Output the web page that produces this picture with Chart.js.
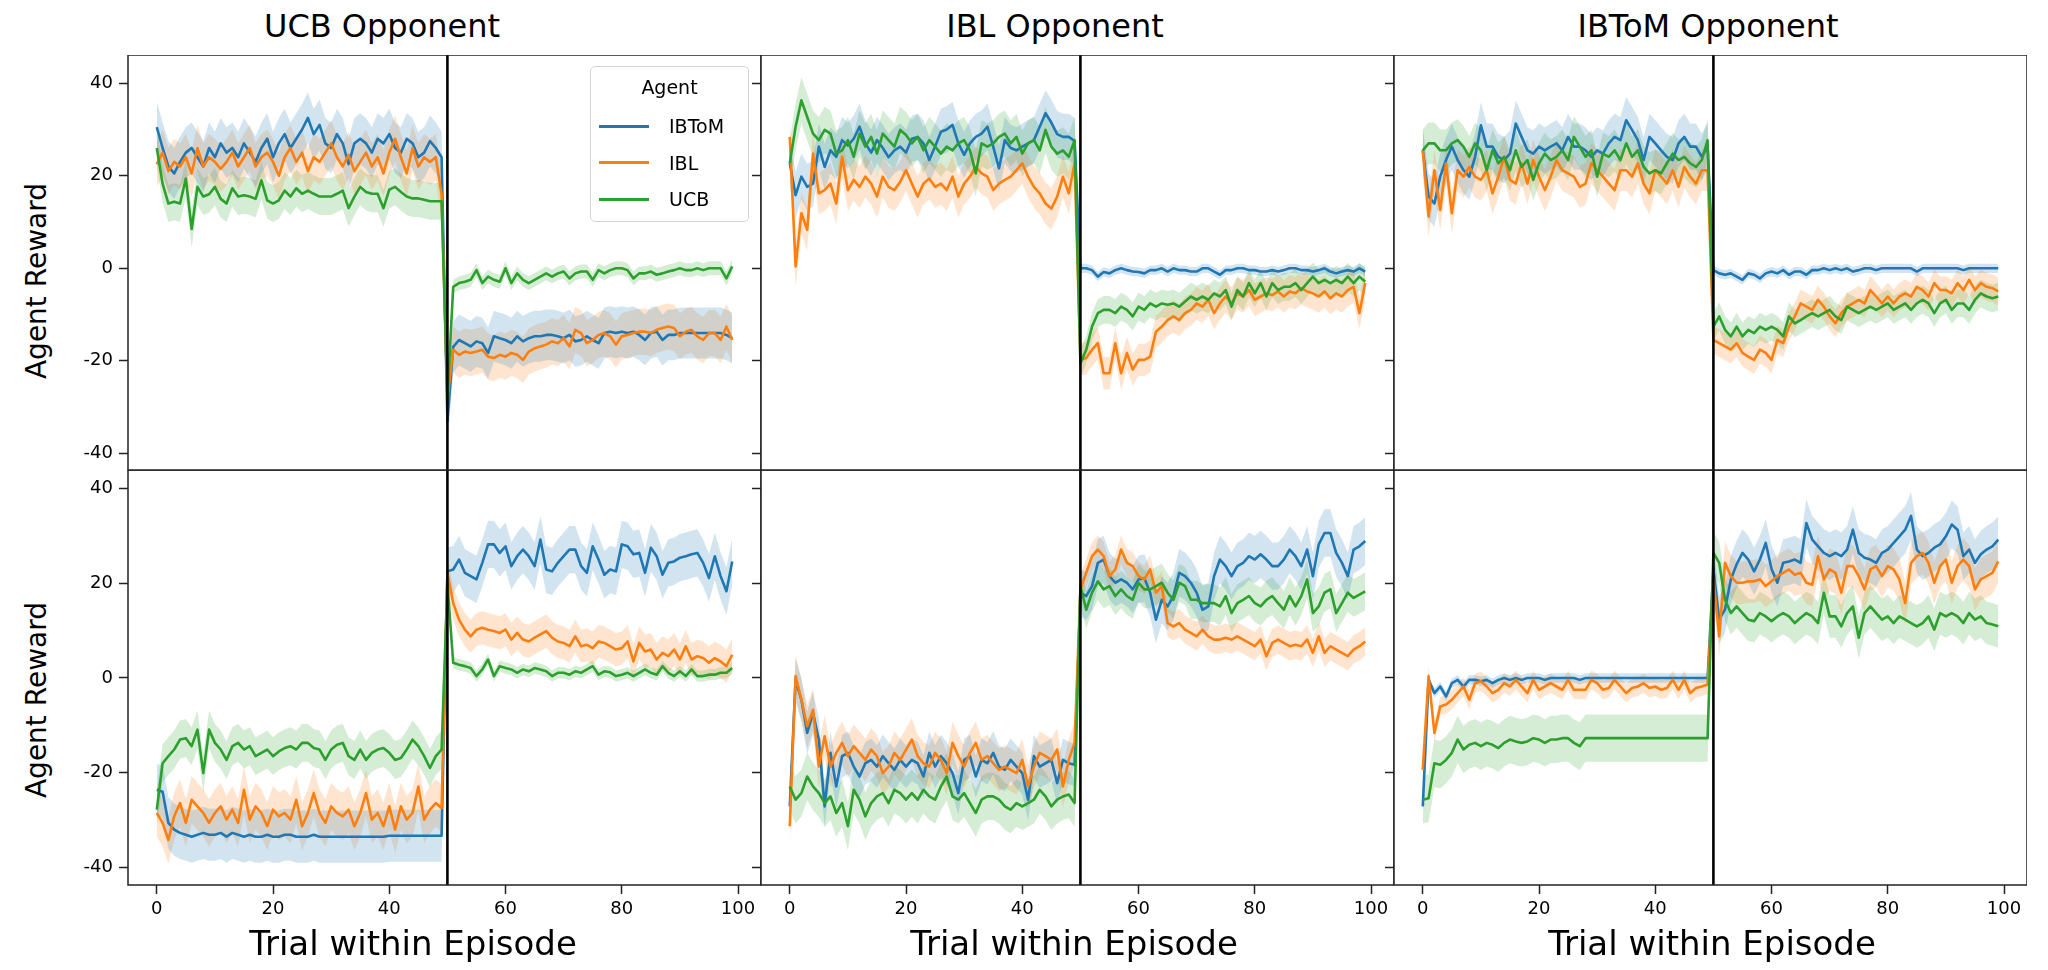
<!DOCTYPE html>
<html>
<head>
<meta charset="utf-8">
<title>Agent reward by opponent</title>
<script src="https://cdn.jsdelivr.net/npm/chart.js@4.4.1/dist/chart.umd.min.js"></script>
<style>
  html, body { margin: 0; padding: 0; background: #fff; }
  body { width: 2048px; height: 970px; position: relative; overflow: hidden; font-family: "DejaVu Sans", sans-serif; color: #000; }
  #fig { position: absolute; left: 0; top: 0; width: 2048px; height: 970px; }
  canvas { position: absolute; }
  .title, .xlabel, .ylabel { position: absolute; white-space: nowrap; line-height: 1; }
  .title { font-size: 32px; transform: translate(-50%, -50%); }
  .xlabel { font-size: 34px; transform: translate(-50%, -50%); }
  .ylabel { font-size: 28px; transform: translate(-50%, -50%) rotate(-90deg); }
  #legend { position: absolute; left: 590px; top: 66px; width: 159px; height: 156px; box-sizing: border-box;
            border: 1.5px solid #d4d4d4; border-radius: 5px; background: rgba(255,255,255,0.8); font-size: 19px; }
  #legend .ltitle { position: absolute; left: 0; right: 0; top: 9px; text-align: center; }
  #legend .lrow { position: absolute; left: 8px; height: 24px; display: flex; align-items: center; }
  #legend .swatch { width: 50px; height: 3px; margin-right: 20px; }
</style>
</head>
<body>
<div id="fig"></div>
<script>
// ---- data ----
const agents = ["IBToM", "IBL", "UCB"];
const opponents = ["UCB Opponent", "IBL Opponent", "IBToM Opponent"];
const xTicks = [0, 20, 40, 60, 80, 100];
const yTicks = [-40, -20, 0, 20, 40];
const switchTrial = 50;
const trials = [
  0, 1, 2, 3, 4, 5, 6, 7, 8, 9, 10, 11, 12, 13, 14, 15, 16, 17, 18, 19,
  20, 21, 22, 23, 24, 25, 26, 27, 28, 29, 30, 31, 32, 33, 34, 35, 36, 37, 38, 39,
  40, 41, 42, 43, 44, 45, 46, 47, 48, 49, 50, 51, 52, 53, 54, 55, 56, 57, 58, 59,
  60, 61, 62, 63, 64, 65, 66, 67, 68, 69, 70, 71, 72, 73, 74, 75, 76, 77, 78, 79,
  80, 81, 82, 83, 84, 85, 86, 87, 88, 89, 90, 91, 92, 93, 94, 95, 96, 97, 98, 99
];

// top row
const ucbOppTopIBToM = [
  30.5, 26, 22, 20.5, 23, 25, 26, 24, 22, 26,
  24, 27, 25, 26, 24, 27, 25, 23, 26, 28,
  24, 27, 29, 26, 28, 30, 32.5, 29, 31, 27,
  26, 29, 27, 22.5, 27, 28, 27, 25, 28, 27,
  29, 26, 25, 28, 27, 24, 25, 27.5, 26, 24,
  -33, -17, -15.5, -16.2, -16.9, -15.8, -16.2, -18.3, -14.7, -15.1,
  -15.5, -16.2, -14.7, -15.8, -15.1, -14.7, -14.7, -14.4, -14.4, -14.7,
  -15.1, -14.4, -15.8, -15.5, -14.7, -15.5, -16.2, -14.0, -13.7, -14.0,
  -13.7, -14.0, -13.7, -14.4, -15.5, -14.0, -13.7, -15.5, -14.4, -14.4,
  -14.0, -14.0, -14.0, -14.0, -14.0, -14.0, -14.0, -14.0, -14.4, -15.1
];
const ucbOppTopIBL = [
  22.5, 25, 21, 23, 22, 24, 20.5, 26, 22, 24,
  23, 21.5, 23, 25, 22, 24, 26, 22, 24, 25,
  23, 20, 24, 26, 23, 25, 21, 24, 23, 25,
  27, 24, 22, 24.5, 21, 23, 25, 22, 24, 20.5,
  25, 28, 24, 20.5, 26, 22, 24, 23, 24, 16,
  -28, -17.6, -18.7, -18, -18.3, -18, -17.6, -19.1, -19.4, -18.7,
  -19.1, -18.3, -18.7, -19.8, -18, -17.3, -16.9, -16.5, -15.8, -16.2,
  -15.1, -16.9, -13.3, -14.0, -16.2, -15.5, -14.4, -14.0, -14.7, -16.5,
  -14.7, -14.4, -14.0, -13.7, -13.7, -14.0, -13.3, -12.9, -12.6, -12.9,
  -14.7, -13.7, -13.3, -14.7, -15.5, -14.0, -14.0, -15.5, -12.6, -15.5
];
const ucbOppTopUCB = [
  26, 18.3, 14, 14.4, 14, 19.4, 8.5, 17.6, 15.5, 16,
  17.6, 15, 14, 17.3, 15.5, 15.8, 15.5, 15, 19, 14.7,
  14, 14.7, 16.8, 15.5, 17.3, 16.1, 16.8, 16.1, 15.5, 15.5,
  15.5, 16.1, 16.8, 13, 15.5, 17.6, 16.5, 16.1, 16.1, 13,
  17, 17.6, 16.5, 15.5, 15.1, 15.1, 14.8, 14.5, 14.5, 14.5,
  -28, -4.0, -3.2, -2.9, -2.5, -0.4, -3.2, -1.8, -2.5, -2.9,
  0, -3.2, -1.1, -2.5, -3.2, -2.5, -1.8, -1.1, -1.8, -1.1,
  -0.7, -2.2, -1.1, -0.7, -0.7, -2.5, -0.4, -1.1, -0.4, 0,
  0, -0.4, -2.2, -1.1, -1.1, -0.7, -1.4, -1.1, -0.7, -0.4,
  0, -0.4, -0.4, 0, -0.4, 0, 0, 0, -2.2, 0.4
];
const iblOppTopIBToM = [
  22.7, 15.8, 19.8, 17.6, 18.3, 26.3, 21.9, 25.5, 24.1, 27.7,
  26.5, 28, 30.6, 27, 25, 27.7, 26, 24, 25.5, 26.3,
  25, 28, 28.4, 27, 23.4, 26.3, 29.5, 30, 31, 27,
  24.5, 27, 28.4, 29.1, 30.6, 26.3, 21.6, 27.7, 26, 25.5,
  26.3, 27, 27.7, 30.6, 33.5, 31.5, 29, 28.4, 28.4, 27.5,
  0, 0, -0.4, -1.8, -0.8, -1.1, -0.4, 0, -0.4, -0.7,
  -0.8, -1.1, -0.4, -0.4, 0, -0.7, 0, -0.4, -0.4, -0.7,
  -0.7, 0, 0, -0.7, -1.4, -0.4, -0.4, 0, 0, -0.4,
  -0.4, -0.7, -0.7, -0.4, -0.7, -0.4, 0, 0, -0.4, -0.4,
  -0.7, -0.4, 0, -0.7, -1.1, -0.7, -0.4, -0.7, 0, -0.7
];
const iblOppTopIBL = [
  28.4, 0.4, 11.9, 8.3, 24.8, 16.2, 16.9, 18.3, 14.0, 24.1,
  16.9, 19.1, 17.6, 19.8, 18.3, 15.5, 19.8, 17.6, 16.9, 18.7,
  21.2, 18.3, 15.5, 18.3, 19.4, 17.6, 18.3, 16.9, 19.8, 15.5,
  18.3, 19.8, 21.9, 20.5, 19.8, 16.9, 18.3, 19.1, 19.8, 21.2,
  22.7, 19.8, 17.6, 16.2, 14.0, 12.9, 15.5, 19.8, 16.2, 22.7,
  -19.8, -19.4, -17.6, -16.2, -22.7, -22.7, -16.2, -22.7, -18.3, -21.9,
  -19.8, -19.8, -19.1, -13.7, -12.6, -11.2, -10.4, -11.2, -9.7, -9.0,
  -7.6, -8.3, -6.8, -9.7, -7.6, -6.1, -7.6, -5.4, -6.1, -4.7,
  -6.8, -6.1, -5.4, -5.8, -5.0, -6.1, -5.0, -5.4, -4.3, -5.0,
  -5.4, -6.1, -5.0, -6.5, -5.4, -6.1, -4.7, -4.0, -9.7, -3.2
];
const iblOppTopUCB = [
  22.7, 30.6, 36.3, 32.7, 29.1, 27.7, 29.9, 29.1, 24.8, 25.5,
  27.7, 24.1, 29.1, 26.3, 28.4, 24.8, 29.1, 27.7, 26.3, 29.9,
  28.8, 27.0, 28.4, 25.5, 27.7, 26.3, 24.8, 26.3, 25.5, 27.0,
  27.7, 25.5, 20.5, 27.0, 26.3, 27.0, 28.4, 29.1, 27.0, 28.4,
  24.8, 27.0, 27.7, 25.5, 29.9, 26.3, 24.8, 25.5, 24.1, 27.7,
  -20.5, -17.6, -12.6, -9.7, -9.0, -9.0, -9.7, -8.3, -9.0, -10.4,
  -8.3, -9.0, -7.6, -8.3, -7.6, -7.9, -7.6, -8.3, -7.2, -6.1,
  -6.8, -6.1, -6.8, -5.4, -6.1, -4.7, -8.3, -4.7, -6.1, -3.2,
  -5.4, -3.2, -6.1, -3.2, -4.7, -4.0, -4.0, -3.2, -4.7, -3.2,
  -1.8, -3.2, -2.5, -3.2, -2.5, -3.2, -1.8, -3.2, -1.8, -2.9
];
const ibtomOppTopIBToM = [
  25.5, 15.5, 14.0, 19.8, 23.4, 26.3, 23.4, 21.2, 19.8, 24.1,
  30.9, 26.3, 26.3, 24.1, 23.4, 24.8, 31.3, 28.4, 25.5, 24.8,
  26.3, 25.5, 26.3, 27.0, 25.5, 28.4, 26.3, 26.3, 25.5, 24.1,
  25.5, 24.8, 27.0, 28.4, 27.7, 32.0, 29.9, 27.7, 23.4, 28.4,
  27.0, 25.5, 24.1, 23.4, 27.0, 28.4, 26.3, 26.3, 24.1, 26.3,
  -0.4, -1.1, -1.4, -1.1, -1.8, -2.5, -1.1, -1.4, -2.2, -1.1,
  -0.7, -1.1, -0.4, -1.4, -0.7, -0.7, -1.4, -0.4, -0.4, 0,
  -0.4, 0, -0.4, 0, -0.7, -0.4, 0, 0, -0.4, 0,
  0, 0, 0, 0, 0, -0.7, 0, 0, 0, 0,
  0, 0, 0, -0.4, 0, 0, 0, 0, 0, 0
];
const ibtomOppTopIBL = [
  25.5, 11.2, 21.2, 12.6, 22.7, 11.9, 21.2, 19.8, 21.9, 19.8,
  19.1, 21.2, 16.2, 19.8, 24.1, 19.1, 18.3, 22.7, 18.3, 23.4,
  19.8, 16.9, 19.8, 23.4, 21.2, 20.5, 19.8, 17.6, 18.3, 22.7,
  21.2, 19.8, 18.3, 16.9, 21.2, 21.2, 19.8, 22.7, 18.3, 16.2,
  21.2, 19.8, 18.3, 21.2, 17.6, 21.9, 19.8, 18.3, 21.2, 21.2,
  -15.5, -16.2, -16.9, -17.6, -16.2, -18.3, -19.1, -19.8, -17.6, -18.3,
  -19.8, -15.5, -16.2, -12.6, -10.4, -7.6, -8.3, -9.0, -6.8, -8.3,
  -10.4, -11.9, -9.7, -8.3, -7.6, -6.8, -7.6, -4.7, -6.1, -7.6,
  -6.1, -7.6, -6.1, -5.4, -6.1, -4.0, -4.7, -6.1, -3.2, -4.7,
  -4.7, -5.4, -3.2, -4.7, -2.5, -4.7, -3.2, -4.0, -4.3, -5.0
];
const ibtomOppTopUCB = [
  25.5, 27.0, 27.0, 25.5, 25.5, 27.0, 27.7, 26.3, 24.1, 27.0,
  25.5, 21.2, 25.5, 22.7, 24.1, 21.2, 25.5, 21.9, 23.4, 19.1,
  22.7, 24.8, 23.4, 24.1, 25.5, 23.4, 28.4, 26.3, 24.1, 25.5,
  19.8, 24.8, 24.1, 25.5, 23.4, 27.0, 24.1, 25.5, 21.9, 20.5,
  21.2, 20.5, 22.7, 24.8, 23.4, 24.1, 22.7, 21.9, 23.4, 27.7,
  -12.6, -10.4, -13.3, -14.7, -12.6, -14.7, -13.3, -14.0, -12.6, -13.3,
  -12.6, -13.3, -14.7, -10.4, -11.9, -11.2, -10.4, -9.7, -10.4, -9.7,
  -9.0, -10.4, -11.2, -8.3, -9.0, -9.7, -9.0, -8.3, -9.0, -8.3,
  -7.6, -9.0, -8.3, -7.6, -9.0, -7.6, -6.8, -7.6, -9.7, -7.6,
  -6.8, -9.0, -7.6, -7.6, -9.0, -6.8, -5.4, -6.1, -6.5, -6.1
];

// bottom row
const ucbOppBottomIBToM = [
  -23.6, -24.0, -30.6, -32.0, -32.7, -33.1, -33.5, -33.1, -32.7, -33.1,
  -33.1, -32.7, -33.5, -32.7, -33.1, -33.5, -33.1, -33.5, -33.5, -33.1,
  -33.5, -33.5, -33.1, -33.1, -33.5, -33.5, -33.5, -33.1, -33.5, -33.5,
  -33.5, -33.5, -33.5, -33.5, -33.5, -33.5, -33.5, -33.5, -33.5, -33.5,
  -33.3, -33.3, -33.3, -33.3, -33.3, -33.3, -33.3, -33.3, -33.3, -33.3,
  22.5, 22.9, 25.0, 22.2, 21.5, 20.8, 24.3, 28.2, 28.2, 26.4,
  27.8, 23.6, 25.7, 27.1, 25.7, 23.6, 29.2, 22.9, 22.5, 24.3,
  25.7, 27.1, 27.1, 23.6, 22.2, 27.8, 25.0, 21.8, 22.9, 22.5,
  28.2, 27.8, 26.1, 26.4, 22.2, 27.5, 25.7, 21.8, 24.3, 24.6,
  25.4, 25.7, 26.1, 26.4, 24.3, 21.1, 25.7, 21.5, 18.3, 24.6
];
const ucbOppBottomIBL = [
  -28.5, -30.6, -34.2, -29.2, -26.4, -30.6, -25.7, -27.1, -28.5, -30.6,
  -28.5, -27.1, -29.9, -27.8, -30.6, -23.6, -29.9, -27.1, -28.5, -31.3,
  -27.8, -29.2, -28.5, -29.9, -25.7, -31.3, -28.5, -24.3, -28.5, -30.6,
  -27.1, -28.5, -29.2, -27.8, -31.3, -28.5, -24.3, -29.9, -28.5, -31.3,
  -27.1, -32.0, -27.1, -29.9, -28.5, -22.9, -29.9, -27.8, -26.4, -27.5,
  22.2, 15.8, 12.3, 10.2, 8.8, 10.2, 10.6, 10.2, 9.9, 9.5,
  10.2, 8.1, 9.5, 8.1, 7.7, 8.5, 9.2, 9.9, 8.5, 7.7,
  7.4, 6.7, 8.8, 6.7, 7.0, 6.3, 7.7, 7.4, 6.7, 6.0,
  6.3, 7.7, 3.5, 7.4, 5.6, 6.0, 3.9, 5.3, 4.6, 6.0,
  3.9, 6.7, 3.9, 4.6, 4.2, 3.2, 4.2, 3.5, 2.5, 4.9
];
const ucbOppBottomUCB = [
  -27.8, -18.0, -16.5, -15.1, -13.0, -12.7, -14.4, -10.9, -20.1, -10.9,
  -13.7, -15.1, -17.3, -14.4, -13.7, -15.1, -14.4, -16.5, -15.8, -15.1,
  -16.5, -15.5, -14.8, -14.4, -15.1, -13.7, -13.7, -14.8, -15.1, -17.3,
  -15.1, -14.1, -13.7, -16.5, -17.3, -15.1, -17.3, -15.8, -15.1, -14.8,
  -15.8, -17.3, -16.9, -15.1, -13.0, -14.4, -16.5, -19.0, -16.5, -15.1,
  20.0, 3.2, 2.8, 2.5, 2.1, 0.4, 1.8, 3.9, 0.4, 2.5,
  2.1, 1.8, 1.1, 1.8, 1.4, 2.1, 1.8, 1.4, 0.4, 1.1,
  1.1, 0.7, 1.4, 1.1, 1.8, 2.5, 0.7, 1.4, 1.2, 0.4,
  0.7, 1.1, 0.4, 1.1, 1.8, 1.1, 0.7, 2.5, 1.1, 0.4,
  1.4, 0.4, 1.8, 0.4, 0.4, 0.7, 0.7, 1.1, 1.1, 2.1
];
const iblOppBottomIBToM = [
  -27.1, -0.4, -4.6, -11.6, -7.4, -13.0, -27.1, -15.8, -22.9, -16.5,
  -15.8, -18.7, -20.8, -18.0, -17.3, -18.7, -16.5, -18.0, -19.4, -17.3,
  -18.7, -17.3, -18.0, -20.8, -15.8, -18.7, -16.5, -18.0, -20.1, -24.3,
  -17.3, -16.5, -20.8, -17.3, -18.0, -15.8, -18.7, -19.4, -17.3, -18.7,
  -20.1, -25.7, -16.5, -18.7, -18.0, -17.3, -22.2, -17.3, -18.0, -18.3,
  18.0, 17.3, 19.4, 24.3, 25.0, 21.5, 20.1, 20.8, 20.1, 18.7,
  20.8, 21.1, 18.0, 12.3, 16.5, 15.1, 17.3, 22.2, 21.5, 20.1,
  18.0, 14.4, 15.1, 21.5, 25.0, 23.6, 21.5, 23.6, 24.3, 25.7,
  25.0, 26.1, 25.0, 23.6, 23.6, 25.0, 27.1, 25.7, 23.6, 27.1,
  21.5, 28.2, 30.6, 30.6, 26.4, 24.3, 21.5, 27.1, 27.8, 28.9
];
const iblOppBottomIBL = [
  -31.3, 0.4, -4.6, -10.2, -6.7, -18.7, -12.3, -18.7, -15.8, -13.7,
  -16.5, -14.4, -15.8, -17.3, -15.1, -16.5, -20.1, -18.7, -15.8, -17.3,
  -15.1, -13.0, -16.5, -18.0, -18.7, -15.8, -17.3, -20.1, -13.7, -16.5,
  -18.7, -15.8, -13.7, -17.3, -16.5, -18.0, -19.4, -18.7, -19.4, -20.1,
  -17.3, -22.9, -18.7, -15.8, -16.5, -17.3, -15.1, -22.9, -17.3, -13.7,
  18.7, 22.2, 25.7, 27.1, 25.7, 21.5, 22.9, 27.1, 24.3, 23.6,
  21.5, 20.8, 22.9, 18.0, 19.4, 11.6, 10.9, 11.6, 10.2, 9.5,
  8.8, 10.2, 8.8, 8.1, 8.1, 8.5, 8.1, 8.8, 8.1, 7.4,
  6.7, 8.1, 4.6, 7.4, 8.1, 7.4, 6.7, 7.0, 6.7, 8.1,
  5.3, 8.8, 5.3, 6.7, 6.0, 5.3, 4.6, 6.0, 6.7, 7.7
];
const iblOppBottomUCB = [
  -22.9, -25.7, -24.3, -20.8, -22.9, -24.3, -26.4, -25.0, -28.5, -26.4,
  -31.3, -23.6, -25.7, -29.2, -26.4, -25.0, -24.3, -26.4, -23.6, -24.3,
  -25.7, -24.3, -25.7, -23.6, -25.0, -25.7, -22.9, -20.8, -25.0, -25.7,
  -24.3, -26.4, -28.5, -25.7, -25.0, -25.0, -25.7, -27.1, -27.8, -26.4,
  -27.1, -26.4, -25.7, -23.6, -25.0, -27.1, -25.7, -25.0, -24.6, -26.4,
  19.4, 14.4, 18.0, 20.4, 18.7, 19.4, 17.3, 18.7, 17.3, 16.5,
  20.1, 18.7, 18.7, 19.4, 20.1, 18.0, 16.5, 20.1, 19.4, 16.5,
  16.5, 15.8, 15.8, 15.8, 15.1, 17.3, 13.7, 15.8, 16.5, 17.3,
  15.8, 15.1, 16.5, 17.3, 15.8, 14.4, 17.3, 15.1, 17.3, 20.8,
  13.7, 15.1, 18.0, 18.7, 13.7, 15.8, 18.0, 16.9, 17.6, 18.3
];
const ibtomOppBottomIBToM = [
  -27.1, -0.4, -3.2, -1.8, -3.9, -1.1, -0.4, -1.8, -0.4, -0.4,
  -0.7, -0.4, -1.1, -0.4, 0, -0.4, 0, -0.4, 0, 0,
  0, -0.4, 0, 0, 0, 0, 0, -0.4, 0, 0,
  0, 0, 0, 0, 0, 0, 0, 0, 0, 0,
  0, 0, 0, 0, 0, 0, 0, 0, 0, 0,
  23.0, 12.3, 14.5, 20.8, 24.0, 26.4, 25.0, 22.5, 25.0, 28.5,
  23.0, 20.1, 24.3, 24.6, 25.0, 24.3, 32.7, 29.2, 27.8, 26.4,
  25.7, 26.4, 25.7, 27.1, 31.3, 26.4, 25.4, 25.0, 24.3, 26.4,
  27.1, 28.5, 29.9, 31.3, 34.2, 27.1, 25.7, 26.4, 27.5, 28.2,
  29.9, 32.4, 31.3, 25.7, 27.1, 24.3, 26.1, 27.1, 27.8, 29.2
];
const ibtomOppBottomIBL = [
  -19.4, 0.4, -11.6, -6.0, -5.6, -4.6, -3.2, -1.8, -4.6, -1.1,
  -0.7, -1.8, -3.2, -2.5, -1.1, -1.8, -0.4, -1.8, -3.2, -0.4,
  -2.5, -1.8, -1.1, -1.8, -2.5, -0.4, -2.5, -2.5, -2.5, -0.4,
  -1.1, -2.5, -2.1, -0.4, -1.8, -3.2, -2.1, -1.8, -1.1, -2.1,
  -1.8, -2.5, -2.1, -0.4, -2.5, -0.4, -3.2, -2.1, -1.8, -1.4,
  20.8, 8.8, 24.3, 21.5, 20.1, 20.1, 20.4, 20.4, 20.8, 19.4,
  20.4, 21.5, 22.2, 22.9, 21.8, 22.2, 20.1, 19.7, 25.7, 20.8,
  22.9, 22.2, 18.0, 23.6, 23.6, 21.5, 18.7, 22.9, 23.6, 21.5,
  23.6, 22.9, 20.8, 15.8, 24.3, 25.7, 26.4, 24.3, 20.1, 23.6,
  25.0, 20.1, 23.6, 25.0, 23.6, 18.7, 20.8, 21.5, 22.2, 24.6
];
const ibtomOppBottomUCB = [
  -25.7, -25.4, -18.0, -18.3, -17.3, -15.8, -13.0, -15.1, -14.1, -13.7,
  -14.4, -13.7, -14.1, -14.8, -13.7, -13.0, -13.4, -13.7, -13.4, -12.7,
  -13.0, -13.7, -13.0, -13.0, -12.7, -12.7, -13.7, -14.4, -12.7, -12.7,
  -12.7, -12.7, -12.7, -12.7, -12.7, -12.7, -12.7, -12.7, -12.7, -12.7,
  -12.7, -12.7, -12.7, -12.7, -12.7, -12.7, -12.7, -12.7, -12.7, -12.7,
  26.4, 24.3, 16.5, 13.7, 15.1, 13.7, 12.3, 12.0, 13.7, 13.0,
  12.0, 13.0, 13.7, 13.0, 11.6, 12.7, 13.7, 13.0, 11.6, 18.0,
  13.0, 13.0, 10.9, 13.7, 15.1, 8.5, 13.7, 15.1, 13.7, 12.3,
  13.0, 11.6, 13.0, 12.3, 11.6, 10.9, 11.6, 13.0, 10.2, 13.7,
  13.0, 13.7, 13.0, 11.6, 13.7, 12.3, 13.0, 11.6, 11.3, 10.9
];

// half-width of the shaded band per agent: [before switch, after switch]
const ucbOppTopBand = [[5.5, 5.5], [5, 5], [4, 1.5]];
const iblOppTopBand = [[5, 1], [4.5, 3.5], [5, 3]];
const ibtomOppTopBand = [[5, 1], [4.5, 3], [4.5, 3]];
const ucbOppBottomBand = [[5.5, 5], [5, 3.5], [4, 1.2]];
const iblOppBottomBand = [[4.5, 5], [4.5, 3], [5, 4]];
const ibtomOppBottomBand = [[1, 5], [2, 4.5], [5, 4.5]];

// ---- layout / style ----
const agentColors = ["#1f77b4", "#ff7f0e", "#2ca02c"];
const bandColors = ["rgba(31,119,180,0.2)", "rgba(255,127,14,0.2)", "rgba(44,160,44,0.2)"];
const colX = [128, 761, 1394];
const rowY = [55, 470];
const panelW = 633, panelH = 415;
const axisW = 60, axisH = 50;
const xRange = [-4.95, 103.95];
const yRange = [[-43.6, 46.1], [-43.7, 43.9]];

const panels = [
  { row: 0, col: 0, series: [ucbOppTopIBToM, ucbOppTopIBL, ucbOppTopUCB], band: ucbOppTopBand },
  { row: 0, col: 1, series: [iblOppTopIBToM, iblOppTopIBL, iblOppTopUCB], band: iblOppTopBand },
  { row: 0, col: 2, series: [ibtomOppTopIBToM, ibtomOppTopIBL, ibtomOppTopUCB], band: ibtomOppTopBand },
  { row: 1, col: 0, series: [ucbOppBottomIBToM, ucbOppBottomIBL, ucbOppBottomUCB], band: ucbOppBottomBand },
  { row: 1, col: 1, series: [iblOppBottomIBToM, iblOppBottomIBL, iblOppBottomUCB], band: iblOppBottomBand },
  { row: 1, col: 2, series: [ibtomOppBottomIBToM, ibtomOppBottomIBL, ibtomOppBottomUCB], band: ibtomOppBottomBand }
];

Chart.defaults.font.family = "'DejaVu Sans', sans-serif";
Chart.defaults.color = "#000";

const fig = document.getElementById("fig");

// box around each plot area
const framePlugin = {
  id: "frame",
  afterDraw(chart) {
    const a = chart.chartArea;
    const c = chart.ctx;
    c.save();
    c.strokeStyle = "#222";
    c.lineWidth = 1.5;
    c.strokeRect(a.left, a.top, a.right - a.left, a.bottom - a.top);
    c.restore();
  }
};

// keep every plot area the same size, whatever labels are shown
function fixX(s) { s.height = axisH; s.paddingLeft = 0; s.paddingRight = 0; }
function fixY(s) { s.width = axisW; s.paddingTop = 0; s.paddingBottom = 0; }

function makePanel(p) {
  const canvas = document.createElement("canvas");
  canvas.width = axisW + panelW;
  canvas.height = panelH + axisH;
  canvas.style.left = (colX[p.col] - axisW) + "px";
  canvas.style.top = rowY[p.row] + "px";
  fig.appendChild(canvas);

  const bands = [];
  const lines = [];
  p.series.forEach((vals, i) => {
    const hw = p.band[i];
    const half = t => (t < switchTrial ? hw[0] : hw[1]);
    bands.push({
      data: vals.map((v, k) => ({ x: trials[k], y: v + half(trials[k]) })),
      borderWidth: 0, pointRadius: 0, backgroundColor: bandColors[i], fill: "+1", order: 10
    });
    bands.push({
      data: vals.map((v, k) => ({ x: trials[k], y: v - half(trials[k]) })),
      borderWidth: 0, pointRadius: 0, fill: false, order: 10
    });
    lines.push({
      label: agents[i],
      data: vals.map((v, k) => ({ x: trials[k], y: v })),
      borderColor: agentColors[i], borderWidth: 2.6, pointRadius: 0, fill: false,
      borderJoinStyle: "round", order: 5 - i
    });
  });
  const yr = yRange[p.row];
  const switchLine = {
    data: [{ x: switchTrial, y: yr[0] }, { x: switchTrial, y: yr[1] }],
    borderColor: "#000", borderWidth: 2.6, pointRadius: 0, fill: false, order: 0
  };

  new Chart(canvas, {
    type: "line",
    data: { datasets: [...bands, ...lines, switchLine] },
    options: {
      responsive: false,
      animation: false,
      devicePixelRatio: 1,
      layout: { padding: 0 },
      plugins: { legend: { display: false }, tooltip: { enabled: false } },
      scales: {
        x: {
          type: "linear", min: xRange[0], max: xRange[1],
          afterBuildTicks: s => { s.ticks = xTicks.map(v => ({ value: v })); },
          afterFit: fixX,
          border: { display: false },
          grid: { display: p.row === 1, drawOnChartArea: false, drawTicks: true, tickLength: 9, tickColor: "#222", tickWidth: 1.5 },
          ticks: { display: p.row === 1, font: { size: 18 }, color: "#000", padding: 5, maxRotation: 0, autoSkip: false }
        },
        y: {
          type: "linear", min: yr[0], max: yr[1],
          afterBuildTicks: s => { s.ticks = yTicks.map(v => ({ value: v })); },
          afterFit: fixY,
          border: { display: false },
          grid: { drawOnChartArea: false, drawTicks: true, tickLength: 9, tickColor: "#222", tickWidth: 1.5 },
          ticks: { display: p.col === 0, font: { size: 18 }, color: "#000", padding: 6, autoSkip: false }
        }
      }
    },
    plugins: [framePlugin]
  });
}

panels.forEach(makePanel);

// ---- text ----
function addText(cls, text, x, y) {
  const el = document.createElement("div");
  el.className = cls;
  el.textContent = text;
  el.style.left = x + "px";
  el.style.top = y + "px";
  fig.appendChild(el);
}
const titleX = [382, 1055, 1708];
opponents.forEach((o, i) => addText("title", o, titleX[i], 26));
const xLabelX = [413, 1074, 1712];
xLabelX.forEach(x => addText("xlabel", "Trial within Episode", x, 943));
[281, 700].forEach(y => addText("ylabel", "Agent Reward", 37, y));

// legend (inside the top-left panel)
const legend = document.createElement("div");
legend.id = "legend";
legend.innerHTML = '<div class="ltitle">Agent</div>';
agents.forEach((name, i) => {
  const row = document.createElement("div");
  row.className = "lrow";
  row.style.top = (47 + i * 36.5) + "px";
  row.innerHTML = '<span class="swatch" style="background:' + agentColors[i] + '"></span><span>' + name + '</span>';
  legend.appendChild(row);
});
fig.appendChild(legend);
</script>
</body>
</html>
